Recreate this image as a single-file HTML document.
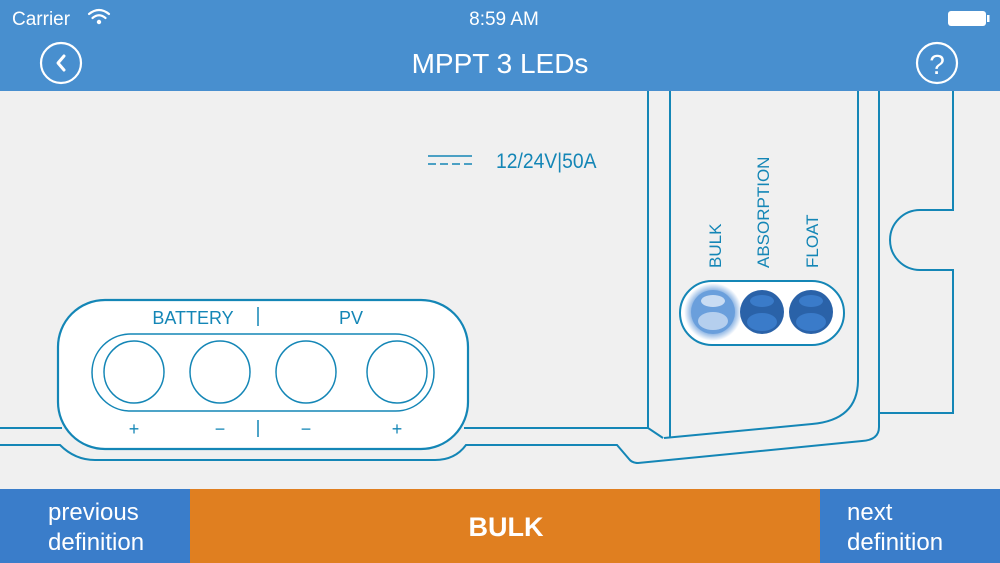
<!DOCTYPE html>
<html><head><meta charset="utf-8"><style>
html,body{margin:0;padding:0;width:1000px;height:563px;overflow:hidden;background:#f0f0f0}
svg{display:block}
text{font-family:"Liberation Sans",sans-serif}
</style></head><body>
<svg width="1000" height="563" viewBox="0 0 1000 563" xmlns="http://www.w3.org/2000/svg">
<defs>
<radialGradient id="glow" cx="0.5" cy="0.5" r="0.5">
<stop offset="0.6" stop-color="#3a7fd0" stop-opacity="0.9"/>
<stop offset="1" stop-color="#3a7fd0" stop-opacity="0"/>
</radialGradient>
</defs>
<rect x="0" y="0" width="1000" height="563" fill="#f0f0f0"/>
<!-- header -->
<rect x="0" y="0" width="1000" height="91" fill="#488fcf"/>
<text x="12" y="25" font-size="19" fill="#fff">Carrier</text>
<g fill="none" stroke="#fff" stroke-width="2.2" stroke-linecap="round">
<path d="M89 14 Q99 6 109 14"/><path d="M92.5 18 Q99 12.5 105.5 18"/></g>
<circle cx="99" cy="22" r="2.2" fill="#fff"/>
<text x="504" y="25" font-size="19" fill="#fff" text-anchor="middle">8:59 AM</text>
<rect x="948" y="11" width="38" height="15" rx="3" fill="#fff"/>
<rect x="987" y="15" width="2.5" height="7" fill="#fff"/>
<circle cx="61" cy="63" r="20" fill="none" stroke="#fff" stroke-width="2.2"/>
<path d="M64 56 L58 63 L64 70" fill="none" stroke="#fff" stroke-width="3" stroke-linecap="round" stroke-linejoin="round"/>
<text x="500" y="73" font-size="28" fill="#fff" text-anchor="middle">MPPT 3 LEDs</text>
<circle cx="937" cy="63" r="20" fill="none" stroke="#fff" stroke-width="2.2"/>
<text x="937" y="74" font-size="28" fill="#fff" text-anchor="middle">?</text>

<!-- drawing -->
<g fill="none" stroke="#1486b6" stroke-width="2">
<path d="M648 91 V428 L663 438"/>
<path d="M670 91 V437"/>
<path d="M664 438 L812 424 Q858 420 858 380 V91"/>
<path d="M879 91 V413 H953 V270 H920 A30 30 0 0 1 920 210 H953 V91"/>
<path d="M879 413 V427 Q879 440 862 441 L638 463 Q632 463 629 459 L617 445 H466 Q455 460 435 460 H95 Q75 460 60 445 H0"/>
<path d="M0 428 H62"/><path d="M464 428 H648"/>
</g>
<text x="0" y="0" font-size="21" fill="#1486b6" transform="translate(496 168) scale(0.92 1)">12/24V|50A</text>
<g stroke="#1486b6" stroke-width="1.5">
<path d="M428 156 H472"/><path d="M428 164 H436 M440 164 H448 M452 164 H460 M464 164 H472"/></g>

<!-- terminal panel -->
<rect x="58" y="300" width="410" height="149" rx="47" fill="#fff" stroke="#1486b6" stroke-width="2.2"/>
<rect x="92" y="334" width="342" height="77" rx="38.5" fill="none" stroke="#1486b6" stroke-width="1.5"/>
<g fill="none" stroke="#1486b6" stroke-width="1.5">
<ellipse cx="134" cy="372" rx="30" ry="31"/>
<ellipse cx="220" cy="372" rx="30" ry="31"/>
<ellipse cx="306" cy="372" rx="30" ry="31"/>
<ellipse cx="397" cy="372" rx="30" ry="31"/>
</g>
<g fill="#1486b6" font-size="18" text-anchor="middle">
<text x="193" y="324">BATTERY</text>
<text x="351" y="324">PV</text>
<text x="134" y="435">+</text>
<text x="220" y="435">−</text>
<text x="306" y="435">−</text>
<text x="397" y="435">+</text>
</g>
<path d="M258 307 V326 M258 420 V437" stroke="#1486b6" stroke-width="1.5"/>

<!-- LEDs -->
<rect x="680" y="281" width="164" height="64" rx="32" fill="#fff" stroke="#1486b6" stroke-width="2"/>
<circle cx="713" cy="312" r="29" fill="url(#glow)"/>
<circle cx="713" cy="312" r="22" fill="#6a9fdc"/>
<ellipse cx="713" cy="301" rx="12" ry="6" fill="#c9dcf3"/>
<ellipse cx="713" cy="321" rx="15" ry="9" fill="#b5cfee"/>
<circle cx="762" cy="312" r="22" fill="#2a62a8"/>
<ellipse cx="762" cy="301" rx="12" ry="6" fill="#3a7bc9"/>
<ellipse cx="762" cy="322" rx="15" ry="9" fill="#3a7bc9"/>
<circle cx="811" cy="312" r="22" fill="#2a62a8"/>
<ellipse cx="811" cy="301" rx="12" ry="6" fill="#3a7bc9"/>
<ellipse cx="811" cy="322" rx="15" ry="9" fill="#3a7bc9"/>
<g fill="#1486b6" font-size="17">
<text transform="translate(721 268) rotate(-90)">BULK</text>
<text transform="translate(769 268) rotate(-90)">ABSORPTION</text>
<text transform="translate(818 268) rotate(-90)">FLOAT</text>
</g>

<!-- bottom bar -->
<rect x="0" y="489" width="190" height="74" fill="#3a7dca"/>
<rect x="190" y="489" width="630" height="74" fill="#e07f20"/>
<rect x="820" y="489" width="180" height="74" fill="#3a7dca"/>
<g fill="#fff" font-size="24">
<text x="48" y="520">previous</text>
<text x="48" y="550">definition</text>
<text x="847" y="520">next</text>
<text x="847" y="550">definition</text>
</g>
<text x="506" y="536" font-size="27" font-weight="bold" fill="#fff" text-anchor="middle">BULK</text>
</svg>
</body></html>
